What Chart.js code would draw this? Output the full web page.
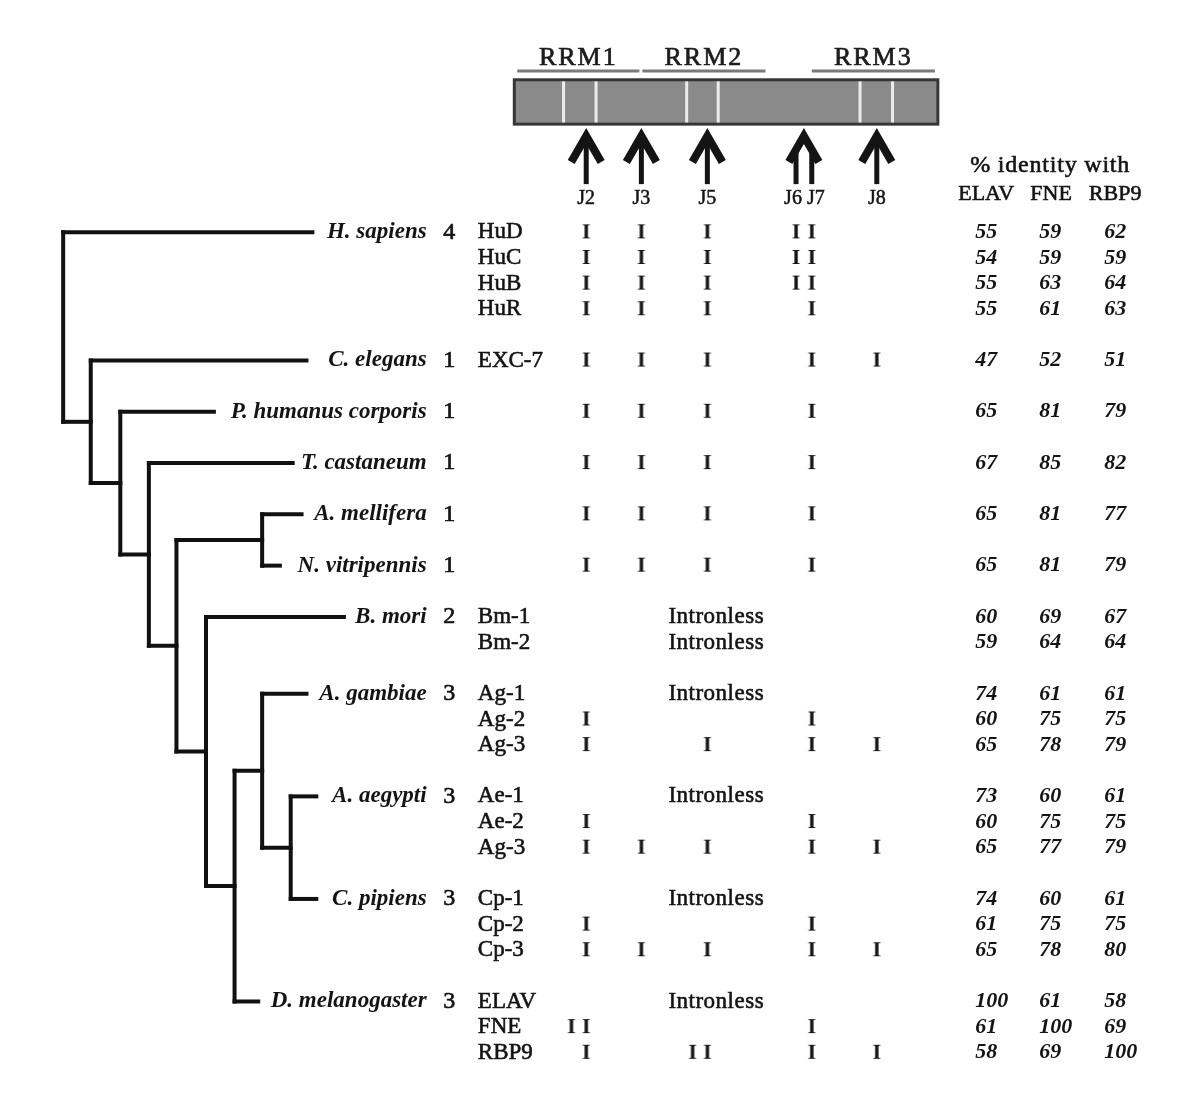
<!doctype html>
<html lang="en">
<head>
<meta charset="UTF-8">
<title>ELAV family: tree, intron positions and identity</title>
<style>
    html, body { margin: 0; padding: 0; background: #fff; }
    canvas { display: block; }
</style>
</head>
<body>
<canvas id="chart" width="1200" height="1113"></canvas>
<script src="https://cdn.jsdelivr.net/npm/chart.js@4.4.0/dist/chart.umd.min.js"></script>
<script>
// ---------- data ----------
var species = ['H. sapiens', 'C. elegans', 'P. humanus corporis', 'T. castaneum', 'A. mellifera',
               'N. vitripennis', 'B. mori', 'A. gambiae', 'A. aegypti', 'C. pipiens', 'D. melanogaster'];
var geneCount = [4, 1, 1, 1, 1, 1, 2, 3, 3, 3, 3];
var tipX = [308, 302, 208, 288, 297, 275, 340, 302, 312, 312, 253];   // end of each leaf branch

// internal nodes of the tree: depth (x) and two children
var nodeNames = ['root', 'n2', 'n3', 'n4', 'n5', 'hym', 'n6', 'n7', 'n8', 'n9'];
var nodeX = [55, 83, 113, 142, 170, 257, 200, 229, 257, 286];
var nodeKids = [
    ['H. sapiens', 'n2'], ['C. elegans', 'n3'], ['P. humanus corporis', 'n4'], ['T. castaneum', 'n5'],
    ['hym', 'n6'], ['A. mellifera', 'N. vitripennis'], ['B. mori', 'n7'], ['n8', 'D. melanogaster'],
    ['A. gambiae', 'n9'], ['A. aegypti', 'C. pipiens']
];

// one entry per table row
var genes = ['HuD', 'HuC', 'HuB', 'HuR', 'EXC-7', '', '', '', '', 'Bm-1', 'Bm-2', 'Ag-1', 'Ag-2', 'Ag-3',
             'Ae-1', 'Ae-2', 'Ag-3', 'Cp-1', 'Cp-2', 'Cp-3', 'ELAV', 'FNE', 'RBP9'];
var geneRow = [0, 1, 2, 3, 5, 7, 9, 11, 13, 15, 16, 18, 19, 20, 22, 23, 24, 26, 27, 28, 30, 31, 32];
var geneSpecies = [0, 0, 0, 0, 1, 2, 3, 4, 5, 6, 6, 7, 7, 7, 8, 8, 8, 9, 9, 9, 10, 10, 10];
var geneIntrons = [
    ['J2', 'J3', 'J5', 'J6', 'J7'], ['J2', 'J3', 'J5', 'J6', 'J7'], ['J2', 'J3', 'J5', 'J6', 'J7'],
    ['J2', 'J3', 'J5', 'J7'], ['J2', 'J3', 'J5', 'J7', 'J8'],
    ['J2', 'J3', 'J5', 'J7'], ['J2', 'J3', 'J5', 'J7'], ['J2', 'J3', 'J5', 'J7'], ['J2', 'J3', 'J5', 'J7'],
    [], [],
    [], ['J2', 'J7'], ['J2', 'J5', 'J7', 'J8'],
    [], ['J2', 'J7'], ['J2', 'J3', 'J5', 'J7', 'J8'],
    [], ['J2', 'J7'], ['J2', 'J3', 'J5', 'J7', 'J8'],
    [], ['J2*', 'J2', 'J7'], ['J2', 'J5*', 'J5', 'J7', 'J8']
];
var identELAV = [55, 54, 55, 55, 47, 65, 67, 65, 65, 60, 59, 74, 60, 65, 73, 60, 65, 74, 61, 65, 100, 61, 58];
var identFNE  = [59, 59, 63, 61, 52, 81, 85, 81, 81, 69, 64, 61, 75, 78, 60, 75, 77, 60, 75, 78, 61, 100, 69];
var identRBP9 = [62, 59, 64, 63, 51, 79, 82, 77, 79, 67, 64, 61, 75, 79, 61, 75, 79, 61, 75, 80, 58, 69, 100];
var identHeads = ['ELAV', 'FNE', 'RBP9'];

// intron junctions (J2* and J5* are the unlabelled extra positions)
var junctions = ['J2*', 'J2', 'J3', 'J5*', 'J5', 'J6', 'J7', 'J8'];
var junctionX = [571, 586, 642, 694, 709, 799, 815, 881];
var arrowJunctions = ['J2', 'J3', 'J5', 'J6', 'J7', 'J8'];

// protein diagram
var proteinStart = 513, proteinEnd = 943;
var rrmNames = ['RRM1', 'RRM2', 'RRM3'];
var rrmStart = [516, 643, 815];
var rrmEnd = [640, 768, 940];
var motifLines = [563, 596, 688, 720, 864, 897];

// ---------- layout (x in figure units, y in table rows) ----------
var L = {
    rrmText: -6.8, rrmLine: -6.29, barTop: -5.95, barBot: -4.22,
    arrowTip: -4.03, arrowEnd: -1.88, jLabel: -1.3,
    identTitle: -2.6, identHead: -1.48,
    speciesRight: 424, countX: 447, geneX: 476, intronlessX: 718,
    identX: [981, 1046, 1112], identHeadX: [992, 1058, 1123], identTitleX: 1057
};
var SERIF = '"Liberation Serif", "Times New Roman", serif';
var INK = '#141414';

// ---------- tree segments ----------
function nodeY(name) {
    var s = species.indexOf(name);
    if (s >= 0) return geneRow[geneSpecies.indexOf(s)];
    var k = nodeKids[nodeNames.indexOf(name)];
    return (nodeY(k[0]) + nodeY(k[1])) / 2;
}
function nodeEndX(name) {
    var s = species.indexOf(name);
    return s >= 0 ? tipX[s] : nodeX[nodeNames.indexOf(name)];
}
var treeSets = [];
function seg(a, b) {
    treeSets.push({
        data: [a, b], showLine: true, pointRadius: 0, borderColor: '#111',
        borderWidth: 4, borderCapStyle: 'square'
    });
}
nodeNames.forEach(function (n, i) {
    var k = nodeKids[i];
    seg({x: nodeX[i], y: nodeY(k[0])}, {x: nodeX[i], y: nodeY(k[1])});
    k.forEach(function (c) {
        seg({x: nodeX[i], y: nodeY(c)}, {x: nodeEndX(c), y: nodeY(c)});
    });
});

// ---------- intron marks ----------
var iMark = document.createElement('canvas');
iMark.width = 14; iMark.height = 22;
(function () {
    var c = iMark.getContext('2d');
    c.fillStyle = INK;
    c.font = 'bold 22px ' + SERIF;
    c.textAlign = 'center';
    c.textBaseline = 'middle';
    c.fillText('I', 7, 11);
})();
var intronPts = [];
geneIntrons.forEach(function (list, g) {
    list.forEach(function (j) {
        intronPts.push({x: junctionX[junctions.indexOf(j)], y: geneRow[g]});
    });
});

// ---------- drawing plugin for text, protein bar and arrows ----------
var figurePlugin = {
    id: 'figure',
    afterDatasetsDraw: function (chart) {
        var ctx = chart.ctx, xs = chart.scales.x, ys = chart.scales.y;
        var X = function (v) { return xs.getPixelForValue(v); };
        var Y = function (v) { return ys.getPixelForValue(v); };
        // serif text, slightly thickened to match the heavier print face
        function txt(s, x, y, font, align, heavy) {
            ctx.font = font; ctx.textAlign = align || 'left'; ctx.textBaseline = 'middle';
            ctx.fillText(s, x, y);
            if (heavy) {
                ctx.lineWidth = heavy;
                ctx.strokeStyle = ctx.fillStyle;
                ctx.strokeText(s, x, y);
            }
        }
        ctx.save();

        // protein bar
        var bx0 = X(proteinStart), bx1 = X(proteinEnd), by0 = Y(L.barTop), by1 = Y(L.barBot);
        ctx.fillStyle = '#8a8a8a';
        ctx.fillRect(bx0, by0, bx1 - bx0, by1 - by0);
        ctx.strokeStyle = '#ececec';
        ctx.lineWidth = 3;
        motifLines.forEach(function (m) {
            ctx.beginPath(); ctx.moveTo(X(m), by0 + 1); ctx.lineTo(X(m), by1 - 1); ctx.stroke();
        });
        ctx.strokeStyle = '#363636';
        ctx.lineWidth = 3;
        ctx.strokeRect(bx0, by0, bx1 - bx0, by1 - by0);

        // RRM domains
        rrmNames.forEach(function (r, i) {
            ctx.strokeStyle = '#7a7a7a';
            ctx.lineWidth = 3;
            ctx.beginPath(); ctx.moveTo(X(rrmStart[i]), Y(L.rrmLine)); ctx.lineTo(X(rrmEnd[i]), Y(L.rrmLine)); ctx.stroke();
            ctx.fillStyle = '#1c1c1c';
            ctx.letterSpacing = '2px';
            txt(r, X((rrmStart[i] + rrmEnd[i]) / 2), Y(L.rrmText), '26px ' + SERIF, 'center', 0.7);
            ctx.letterSpacing = '0px';
        });

        // arrows: close junctions share one head
        ctx.fillStyle = INK;
        var ax = arrowJunctions.map(function (j) { return X(junctionX[junctions.indexOf(j)]); });
        var groups = [];
        ax.forEach(function (x, i) {
            var last = groups[groups.length - 1];
            if (last && x - ax[last[last.length - 1]] < 20) last.push(i); else groups.push([i]);
        });
        var tip = Y(L.arrowTip), end = Y(L.arrowEnd);
        groups.forEach(function (g) {
            var cx = g.reduce(function (s, i) { return s + ax[i]; }, 0) / g.length;
            g.forEach(function (i) {
                var top = tip + 8 + Math.abs(ax[i] - cx) * 26 / 15;
                ctx.fillRect(ax[i] - 2.5, top, 5, end - top);
            });
            ctx.strokeStyle = INK;
            ctx.lineWidth = 8;
            ctx.lineJoin = 'miter';
            ctx.lineCap = 'butt';
            ctx.beginPath();
            ctx.moveTo(cx - 15, tip + 33);
            ctx.lineTo(cx, tip + 7);
            ctx.lineTo(cx + 15, tip + 33);
            ctx.stroke();
            if (g.length === 1) {
                txt(arrowJunctions[g[0]], ax[g[0]], Y(L.jLabel), '20px ' + SERIF, 'center', 0.5);
            } else {
                txt(arrowJunctions[g[0]], cx - 2, Y(L.jLabel), '20px ' + SERIF, 'right', 0.5);
                txt(arrowJunctions[g[1]], cx + 3, Y(L.jLabel), '20px ' + SERIF, 'left', 0.5);
            }
        });

        // identity header
        ctx.letterSpacing = '0.8px';
        txt('% identity with', X(L.identTitleX), Y(L.identTitle), '24px ' + SERIF, 'center', 0.6);
        ctx.letterSpacing = '0px';
        identHeads.forEach(function (h, i) {
            txt(h, X(L.identHeadX[i]), Y(L.identHead), '22px ' + SERIF, 'center', 0.6);
        });

        // species, counts
        species.forEach(function (s, i) {
            var r = geneRow[geneSpecies.indexOf(i)];
            txt(s, X(L.speciesRight), Y(r), 'italic bold 23px ' + SERIF, 'right');
            txt(String(geneCount[i]), X(L.countX), Y(r), '24px ' + SERIF, 'center', 0.7);
        });

        // gene rows
        genes.forEach(function (g, i) {
            var y = Y(geneRow[i]);
            if (g) txt(g, X(L.geneX), y, '23px ' + SERIF, 'left', 0.6);
            if (geneIntrons[i].length === 0) {
                ctx.letterSpacing = '0.5px';
                txt('Intronless', X(L.intronlessX), y, '23px ' + SERIF, 'center', 0.6);
                ctx.letterSpacing = '0px';
            }
            [identELAV, identFNE, identRBP9].forEach(function (arr, c) {
                txt(String(arr[i]), X(L.identX[c]), y, 'italic bold 22px ' + SERIF, 'left');
            });
        });
        ctx.restore();
    }
};

var rowPx = 26.06, firstRowPx = 227;
new Chart(document.getElementById('chart'), {
    type: 'scatter',
    data: {
        datasets: treeSets.concat([{
            data: intronPts, pointStyle: iMark, pointRadius: 8, showLine: false
        }])
    },
    options: {
        responsive: false,
        animation: false,
        devicePixelRatio: 1,
        layout: { padding: 0 },
        scales: {
            x: { type: 'linear', min: 0, max: 1200, display: false },
            y: { type: 'linear', reverse: true, display: false,
                 min: -firstRowPx / rowPx, max: (1113 - firstRowPx) / rowPx }
        },
        plugins: { legend: { display: false }, tooltip: { enabled: false } },
        events: []
    },
    plugins: [figurePlugin]
});
</script>
</body>
</html>
